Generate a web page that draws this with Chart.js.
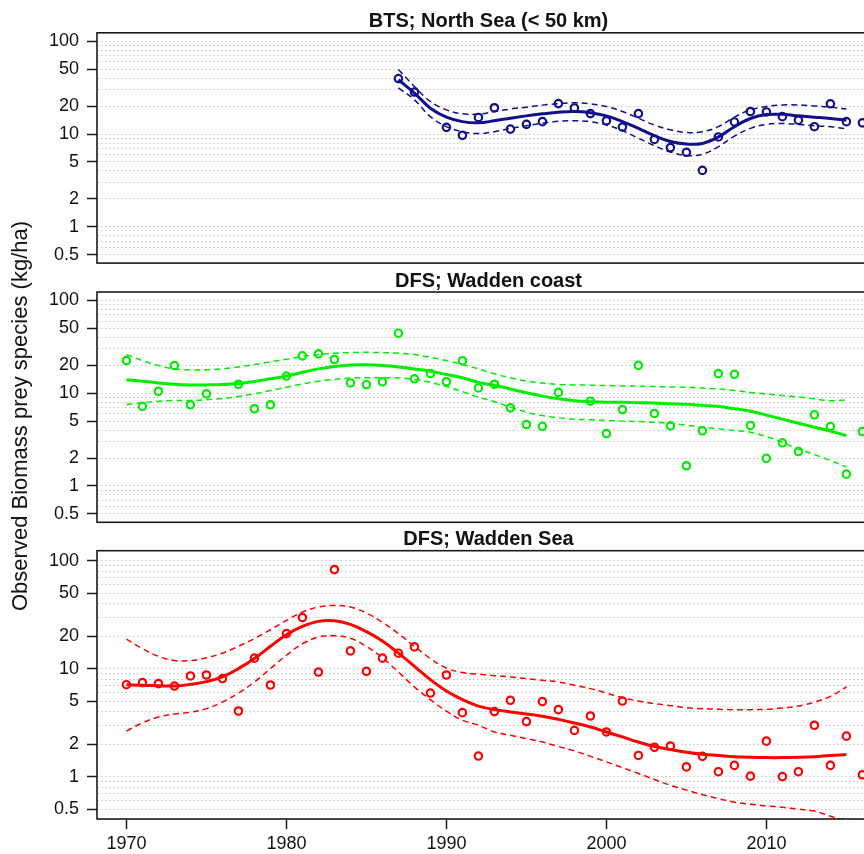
<!DOCTYPE html>
<html>
<head>
<meta charset="utf-8">
<script src="https://cdn.jsdelivr.net/npm/chart.js@4.4.0/dist/chart.umd.min.js"></script>
<style>
body { margin: 0; background: #fff; }
#wrap { position: relative; width: 864px; height: 854px; overflow: hidden; background: #fff; }
.pane { position: absolute; left: 0; }
#ylab {
  position: absolute; left: 20px; top: 416px;
  transform: translate(-50%, -50%) rotate(-90deg);
  font: 22px "Liberation Sans", Arial, sans-serif; color: #111; white-space: nowrap;
}
</style>
</head>
<body>
<div id="wrap">
  <canvas id="c1" class="pane" width="920" height="270" style="top:0"></canvas>
  <canvas id="c2" class="pane" width="920" height="265" style="top:265px"></canvas>
  <canvas id="c3" class="pane" width="920" height="329" style="top:525px"></canvas>
  <div id="ylab">Observed Biomass prey species (kg/ha)</div>
</div>
<script>
// axis ticks
const xTicks = [1970, 1980, 1990, 2000, 2010];
const yLabels = [0.5, 1, 2, 5, 10, 20, 50, 100];
const yGrid = [0.5, 0.6, 0.7, 0.8, 0.9, 1, 2, 3, 4, 5, 6, 7, 8, 9, 10, 20, 30, 40, 50, 60, 70, 80, 90, 100];

// BTS; North Sea (< 50 km)
const btsYears = [1987, 1988, 1989, 1990, 1991, 1992, 1993, 1994, 1995, 1996, 1997, 1998, 1999, 2000, 2001,
  2002, 2003, 2004, 2005, 2006, 2007, 2008, 2009, 2010, 2011, 2012, 2013, 2014, 2015, 2016];
const btsObs = [39.6, 28.4, null, 11.8, 9.7, 15.1, 19.2, 11.3, 12.7, 13.6, 21.3, 19.1, 16.6, 13.9, 11.9,
  16.6, 8.75, 7.15, 6.35, 4.05, 9.3, 13.5, 17.5, 17.3, 15.4, 14.1, 12.0, 21.2, 13.6, 13.2];
const btsFitYears = [1987, 1988, 1989, 1990, 1991, 1992, 1993, 1994, 1995, 1996, 1997, 1998, 1999, 2000, 2001,
  2002, 2003, 2004, 2005, 2006, 2007, 2008, 2009, 2010, 2011, 2012, 2013, 2014, 2015];
const btsFit = [38.5, 27.7, 19.0, 15.2, 13.6, 13.2, 13.9, 14.8, 15.7, 16.5, 17.2, 17.5, 17.0, 15.7, 13.6,
  11.5, 9.6, 8.3, 7.8, 7.9, 9.3, 12.0, 14.7, 16.2, 16.3, 15.7, 15.2, 14.7, 14.1];
const btsUpper = [49.7, 32.6, 22.4, 18.2, 16.5, 16.4, 17.5, 18.6, 19.5, 20.5, 21.3, 21.7, 21.2, 19.8, 17.5,
  14.8, 12.5, 11.1, 10.4, 10.6, 12.0, 15.2, 18.2, 19.8, 20.6, 20.6, 20.1, 19.5, 18.6];
const btsLower = [31.4, 23.4, 15.4, 12.0, 10.6, 10.1, 10.6, 11.5, 12.3, 13.1, 13.7, 13.9, 13.6, 12.5, 10.9,
  9.0, 7.5, 6.4, 5.85, 6.05, 7.3, 9.5, 11.5, 12.7, 13.0, 12.7, 12.3, 12.0, 11.4];

// DFS years (both DFS panels)
const dfsYears = [1970, 1971, 1972, 1973, 1974, 1975, 1976, 1977, 1978, 1979, 1980, 1981, 1982, 1983, 1984, 1985,
  1986, 1987, 1988, 1989, 1990, 1991, 1992, 1993, 1994, 1995, 1996, 1997, 1998, 1999, 2000, 2001,
  2002, 2003, 2004, 2005, 2006, 2007, 2008, 2009, 2010, 2011, 2012, 2013, 2014, 2015, 2016];
const dfsFitYears = [1970, 1971, 1972, 1973, 1974, 1975, 1976, 1977, 1978, 1979, 1980, 1981, 1982, 1983, 1984, 1985,
  1986, 1987, 1988, 1989, 1990, 1991, 1992, 1993, 1994, 1995, 1996, 1997, 1998, 1999, 2000, 2001,
  2002, 2003, 2004, 2005, 2006, 2007, 2008, 2009, 2010, 2011, 2012, 2013, 2014, 2015];

// DFS; Wadden coast
const coastObs = [22.5, 7.2, 10.5, 19.9, 7.5, 9.85, null, 12.5, 6.8, 7.5, 15.3, 25.3, 26.6, 23.1, 12.9, 12.4,
  13.3, 44.4, 14.3, 16.3, 13.3, 22.4, 11.4, 12.5, 6.95, 4.6, 4.4, 10.2, null, 8.2, 3.67, 6.67,
  20.0, 6.04, 4.45, 1.65, 3.93, 16.3, 16.0, 4.49, 1.98, 2.92, 2.35, 5.85, 4.37, 1.34, 3.86];
const coastFit = [14.0, 13.5, 12.9, 12.5, 12.3, 12.3, 12.4, 12.7, 13.4, 14.3, 15.3, 16.8, 18.3, 19.4, 20.2, 20.3,
  19.9, 19.2, 18.3, 17.3, 15.9, 14.7, 13.1, 12.2, 11.1, 10.1, 9.3, 8.7, 8.3, 8.1, 8.0, 8.0,
  7.9, 7.85, 7.7, 7.6, 7.4, 7.2, 6.8, 6.4, 5.8, 5.25, 4.75, 4.3, 3.9, 3.5];
const coastUpper = [26.1, 22.5, 19.9, 18.3, 17.9, 17.9, 18.3, 19.2, 20.4, 21.8, 23.3, 24.9, 26.1, 27.0, 27.4, 27.6,
  27.4, 27.0, 26.1, 24.4, 22.5, 20.4, 18.3, 16.2, 14.7, 13.5, 12.9, 12.4, 12.3, 12.2, 12.1, 12.0,
  11.9, 11.8, 11.7, 11.6, 11.4, 11.1, 10.7, 10.2, 9.8, 9.45, 9.1, 8.7, 8.3, 8.5];
const coastLower = [7.55, 7.9, 8.2, 8.35, 8.35, 8.5, 8.8, 9.2, 9.85, 10.7, 11.6, 12.6, 13.5, 14.1, 14.6, 14.7,
  14.7, 14.6, 14.1, 13.1, 11.8, 10.4, 9.05, 8.1, 7.07, 6.24, 5.75, 5.43, 5.25, 5.17, 5.08, 5.0,
  4.95, 4.86, 4.75, 4.52, 4.3, 4.13, 3.96, 3.8, 3.41, 2.96, 2.5, 2.18, 1.88, 1.6];

// DFS; Wadden Sea
const seaObs = [7.1, 7.42, 7.26, 6.9, 8.55, 8.73, 8.08, 4.05, 12.5, 7.05, 21.1, 29.7, 9.3, 82.6, 14.6, 9.44,
  12.5, 13.9, 15.9, 5.94, 8.73, 3.91, 1.55, 4.0, 5.09, 3.23, 4.95, 4.17, 2.68, 3.64, 2.59, 5.01,
  1.57, 1.87, 1.92, 1.23, 1.54, 1.11, 1.27, 1.01, 2.13, 1.0, 1.11, 2.99, 1.27, 2.37, 1.04];
const seaFit = [7.1, 7.0, 6.95, 6.9, 7.15, 7.58, 8.37, 10.0, 12.4, 16.1, 20.6, 24.6, 27.4, 27.8, 25.7, 22.0,
  18.0, 13.9, 10.5, 7.9, 6.2, 5.16, 4.5, 4.17, 3.97, 3.8, 3.62, 3.39, 3.14, 2.88, 2.59, 2.33,
  2.09, 1.9, 1.78, 1.68, 1.61, 1.57, 1.53, 1.51, 1.5, 1.5, 1.51, 1.53, 1.57, 1.6];
const seaUpper = [18.8, 15.3, 13.0, 11.9, 11.9, 12.6, 13.9, 16.1, 19.0, 22.9, 28.0, 33.4, 37.2, 38.5, 37.2, 32.7,
  26.9, 21.1, 16.1, 12.4, 10.1, 9.2, 8.9, 8.6, 8.37, 8.08, 7.79, 7.52, 7.0, 6.53, 5.94, 5.38,
  5.01, 4.74, 4.54, 4.35, 4.26, 4.2, 4.17, 4.17, 4.2, 4.32, 4.5, 4.9, 5.54, 6.76];
const seaLower = [2.64, 3.14, 3.56, 3.8, 3.94, 4.26, 4.9, 5.94, 7.52, 10.0, 13.3, 17.0, 19.6, 20.2, 19.1, 16.1,
  12.6, 9.3, 6.76, 5.16, 4.03, 3.33, 2.99, 2.59, 2.41, 2.25, 2.09, 1.9, 1.73, 1.54, 1.37, 1.21,
  1.07, 0.94, 0.83, 0.75, 0.68, 0.625, 0.58, 0.555, 0.535, 0.52, 0.5, 0.48, 0.43, 0.39];

const FONT = '"Liberation Sans", Arial, Helvetica, sans-serif';

function pairs(xs, ys) {
  return xs.map((x, i) => ({ x: x, y: ys[i] }));
}

// box round the plot and the bold title above it
const panelFrame = {
  id: 'panelFrame',
  afterDraw(chart, args, opts) {
    const ctx = chart.ctx, a = chart.chartArea;
    ctx.save();
    ctx.strokeStyle = '#1a1a1a';
    ctx.lineWidth = 1.6;
    ctx.strokeRect(a.left, a.top, a.right - a.left, a.bottom - a.top);
    ctx.fillStyle = '#111';
    ctx.font = 'bold 20px ' + FONT;
    ctx.textAlign = 'center';
    ctx.textBaseline = 'alphabetic';
    ctx.fillText(opts.text, (a.left + a.right) / 2, a.top - 5.5);
    ctx.restore();
  }
};

function makePanel(id, title, colour, obsX, obs, fitX, fit, upper, lower, pad, showX) {
  const lineBase = { showLine: true, pointRadius: 0, fill: false, tension: 0.4, borderColor: colour };
  new Chart(document.getElementById(id), {
    type: 'scatter',
    data: {
      datasets: [
        Object.assign({ data: pairs(fitX, upper), borderWidth: 1.5, borderDash: [6, 4] }, lineBase),
        Object.assign({ data: pairs(fitX, lower), borderWidth: 1.5, borderDash: [6, 4] }, lineBase),
        Object.assign({ data: pairs(fitX, fit), borderWidth: 3 }, lineBase),
        {
          data: pairs(obsX, obs), showLine: false, pointStyle: 'circle', pointRadius: 3.7,
          pointBorderWidth: 2.2, pointBorderColor: colour, pointBackgroundColor: 'rgba(0,0,0,0)'
        }
      ]
    },
    options: {
      responsive: false,
      animation: false,
      events: [],
      layout: { padding: pad },
      plugins: { legend: { display: false }, tooltip: { enabled: false }, panelFrame: { text: title } },
      scales: {
        x: {
          type: 'linear', min: 1968.16, max: 2017.1, display: showX,
          afterBuildTicks: s => { s.ticks = xTicks.map(v => ({ value: v })); },
          afterFit: s => { s.height = showX ? 35 : 0; s.paddingLeft = 0; s.paddingRight = 0; },
          ticks: { autoSkip: false, maxRotation: 0, padding: 4, color: '#111', font: { size: 18, family: FONT },
            callback: v => String(v) },
          grid: { drawOnChartArea: false, tickLength: 10, tickColor: '#1a1a1a', tickWidth: 1.5 },
          border: { display: false }
        },
        y: {
          type: 'logarithmic', min: 0.405, max: 123.6, bounds: 'data',
          afterBuildTicks: s => { s.ticks = yGrid.map(v => ({ value: v })); },
          afterFit: s => { s.width = 97; s.paddingTop = 0; s.paddingBottom = 0; },
          ticks: { autoSkip: false, padding: 8, color: '#111', font: { size: 18, family: FONT },
            callback: v => yLabels.includes(v) ? String(v) : '' },
          grid: {
            color: '#c4c4c4', lineWidth: 1, tickLength: 10, tickWidth: 1.5,
            tickColor: c => (c.tick && yLabels.includes(c.tick.value)) ? '#1a1a1a' : 'rgba(0,0,0,0)'
          },
          border: { display: false, dash: [1.5, 2.5] }
        }
      }
    },
    plugins: [panelFrame]
  });
}

makePanel('c1', 'BTS; North Sea (< 50 km)', '#10108c', btsYears, btsObs, btsFitYears, btsFit, btsUpper, btsLower,
  { left: 0, right: 40, top: 32.8, bottom: 6.9 }, false);
makePanel('c2', 'DFS; Wadden coast', '#00ee00', dfsYears, coastObs, dfsFitYears, coastFit, coastUpper, coastLower,
  { left: 0, right: 40, top: 27, bottom: 7.7 }, false);
makePanel('c3', 'DFS; Wadden Sea', '#ff0000', dfsYears, seaObs, dfsFitYears, seaFit, seaUpper, seaLower,
  { left: 0, right: 40, top: 25.7, bottom: 0 }, true);
</script>
</body>
</html>
